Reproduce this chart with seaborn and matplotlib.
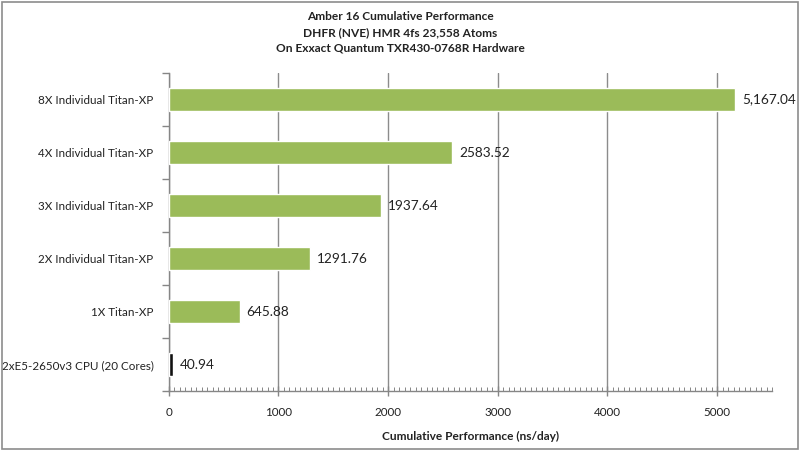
"""Amber 16 cumulative performance bar chart."""

import matplotlib
matplotlib.use("Agg")
import matplotlib.pyplot as plt
import numpy as np
import pandas as pd
import seaborn as sns
from matplotlib.ticker import MultipleLocator, FixedLocator
from matplotlib.patches import Rectangle

systems = [
    "8X Individual Titan-XP",
    "4X Individual Titan-XP",
    "3X Individual Titan-XP",
    "2X Individual Titan-XP",
    "1X Titan-XP",
    "2xE5-2650v3 CPU (20 Cores)",
]
performance = [5167.04, 2583.52, 1937.64, 1291.76, 645.88, 40.94]
value_labels = ["5,167.04", "2583.52", "1937.64", "1291.76", "645.88", "40.94"]
bar_colors = ["#9BBB59", "#9BBB59", "#9BBB59", "#9BBB59", "#9BBB59", "#111111"]

title = ("Amber 16 Cumulative Performance\n"
         "DHFR (NVE) HMR 4fs 23,558 Atoms\n"
         "On Exxact Quantum TXR430-0768R Hardware")

sns.set_theme(style="white")
plt.rcParams["font.family"] = ["Lato", "DejaVu Sans"]

df = pd.DataFrame({"system": systems, "performance": performance})

fig = plt.figure(figsize=(8, 4.51), dpi=100)
ax = fig.add_axes([0.211, 0.133, 0.754, 0.705])

sns.barplot(data=df, x="performance", y="system", hue="system",
            palette=dict(zip(systems, bar_colors)), order=systems,
            saturation=1, legend=False, width=0.42, ax=ax, zorder=3)

ax.set_xlim(0, 5500)
ax.set_ylim(len(systems) - 0.5, -0.5)
ax.xaxis.set_major_locator(MultipleLocator(1000))
ax.xaxis.set_minor_locator(MultipleLocator(50))
ax.grid(axis="x", which="major", color="#8c8c8c", linewidth=1, zorder=0)
ax.set_axisbelow(True)

# category separators on the y axis
ax.yaxis.set_minor_locator(FixedLocator(np.arange(-0.5, len(systems), 1.0)))
ax.tick_params(axis="y", which="major", length=0, pad=11, labelsize=8.4,
               labelcolor="#222222")
ax.tick_params(axis="y", which="minor", left=True, length=5, width=1,
               color="#868686", direction="out")
ax.tick_params(axis="x", which="major", bottom=True, length=7, width=1,
               color="#868686", direction="inout", pad=8, labelsize=8.4,
               labelcolor="#222222")
ax.tick_params(axis="x", which="minor", bottom=True, length=3, width=0.7,
               color="#868686", direction="in")

for side in ["top", "right"]:
    ax.spines[side].set_visible(False)
for side in ["left", "bottom"]:
    ax.spines[side].set_color("#868686")
    ax.spines[side].set_linewidth(1)

for i, (val, lab) in enumerate(zip(performance, value_labels)):
    ax.annotate(lab, (val, i), xytext=(5, 0), textcoords="offset points",
                va="center", ha="left", fontsize=9.8, color="#222222")

ax.set_ylabel("")
ax.set_xlabel("Cumulative Performance (ns/day)", fontsize=8.6,
              fontweight="bold", labelpad=9, color="#222222")
fig.suptitle(title, x=0.5, y=0.975, fontsize=8.6, fontweight="bold",
             linespacing=1.5, color="#222222")

fig.patches.append(Rectangle((0.002, 0.004), 0.996, 0.992, transform=fig.transFigure,
                             fill=False, edgecolor="#8c8c8c", linewidth=1.2))

fig.savefig("out.png", dpi=100)
